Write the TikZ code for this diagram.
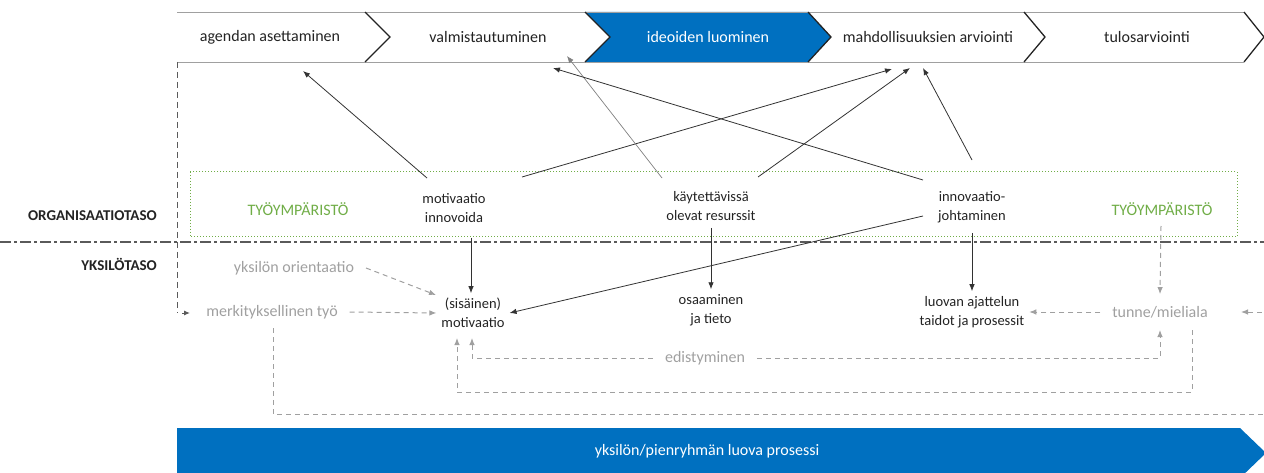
\documentclass[tikz,border=0pt]{standalone}
\usepackage{fontspec}
\setmainfont{Carlito}
\usetikzlibrary{arrows.meta,calc}
\definecolor{blueA}{RGB}{0,112,192}
\definecolor{txt}{RGB}{35,35,35}
\definecolor{lgray}{RGB}{160,160,160}
\definecolor{dgray}{RGB}{90,90,90}
\definecolor{wgreen}{RGB}{112,173,71}
\definecolor{lineC}{RGB}{50,50,50}
\tikzset{
  stage/.style={font=\fontsize{16}{19}\selectfont, text=txt, inner sep=1pt},
  lbl/.style={font=\fontsize{14.5}{19}\selectfont, text=txt, align=center, inner sep=1pt, outer sep=4pt},
  glbl/.style={font=\fontsize{16}{20}\selectfont, text=lgray, inner sep=1pt, outer sep=11pt},
  lvl/.style={font=\bfseries\fontsize{15}{18}\selectfont, text=txt, anchor=east, inner sep=0pt},
  envlbl/.style={font=\fontsize{16}{20}\selectfont, text=wgreen, inner sep=1pt},
  conn/.style={draw=lineC, line width=0.8pt, -{Latex[length=7pt,width=5.5pt]}},
  gconn/.style={draw=lgray, line width=1pt, dash pattern=on 5pt off 4pt, -{Latex[length=7pt,width=5.5pt]}},
  gline/.style={draw=lgray, line width=1pt, dash pattern=on 5pt off 4pt},
}
\begin{document}
\begin{tikzpicture}[x=1pt,y=-1pt]
\useasboundingbox (0,0) rectangle (1264,473);

% process bar with chevrons
\fill[blueA] (585,12) -- (808,12) -- (831,37) -- (808,62) -- (585,62) -- (610,37) -- cycle;
\draw[lgray, line width=0.9pt] (177,12) -- (1244,12) (177,62) -- (1244,62);
\foreach \x/\d in {365/25, 585/25, 808/23, 1024/21, 1244/20}
  \draw[txt, line width=1.3pt] (\x,12) -- (\x+\d,37) -- (\x,62);

\node[stage] (s1) at (270,37) {agendan asettaminen};
\node[stage] (s2) at (488,37) {valmistautuminen};
\node[stage, text=white] (s3) at (708,37) {ideoiden luominen};
\node[stage] (s4) at (928,37) {mahdollisuuksien arviointi};
\node[stage] (s5) at (1147,37) {tulosarviointi};

% level separator
\draw[dgray, line width=1.1pt, dash pattern=on 11pt off 3pt on 3pt off 3pt] (0,242) -- (1264,242);
\node[lvl] (org) at (157,216) {ORGANISAATIOTASO};
\node[lvl] (yks) at (157,264) {YKSILÖTASO};

% work environment
\draw[wgreen, line width=1pt, dotted] (190,172) rectangle (1237,237);
\node[envlbl] (env1) at (298,209) {TYÖYMPÄRISTÖ};
\node[envlbl] (env2) at (1162,209) {TYÖYMPÄRISTÖ};

% organisation-level factors
\node[lbl] (motiv) at (454,208) {motivaatio\\innovoida};
\node[lbl] (kayt) at (711,206) {käytettävissä\\olevat resurssit};
\node[lbl] (innov) at (972,207) {innovaatio-\\johtaminen};

% individual-level factors
\node[lbl] (sis) at (473,313) {(sisäinen)\\motivaatio};
\node[lbl] (osa) at (711,310) {osaaminen\\ja tieto};
\node[lbl] (luo) at (972,312) {luovan ajattelun\\taidot ja prosessit};
\node[glbl] (tun) at (1160,312) {tunne/mieliala};
\node[glbl] (mer) at (272,312) {merkityksellinen työ};
\node[glbl] (ori) at (294,268) {yksilön orientaatio};
\node[glbl] (edi) at (705,358) {edistyminen};

% free ends on the process bar
\coordinate (a1) at (303,71);
\coordinate (a2) at (567,56);
\coordinate (a3) at (553,68);
\coordinate (a4) at (892,69);
\coordinate (a5) at (910,68);
\coordinate (a6) at (923,68);

% organisation factors feeding the stages
\draw[conn] (427,178) -- (a1);
\draw[conn] (522,177) -- (a4);
\draw[conn, draw=gray, line width=0.7pt] (662,178) -- (a2);
\draw[conn] (758,177) -- (a5);
\draw[conn] (923,180) -- (a3);
\draw[conn] (972,160) -- (a6);

% organisation factors feeding individual factors
\draw[conn] (923,216) -- (sis.east);
\draw[conn] (471,238) -- (sis.north -| 471,0);
\draw[conn] (711,228) -- (osa.north);
\draw[conn] (972,233) -- (luo.north);

% dashed influences
\draw[gconn] (ori.east) -- (436,295);
\draw[gconn] (mer.east) -- (sis.west);
\draw[gconn] (tun.west) -- (luo.east);
\draw[gconn] (1161,226) -- (tun.north);
\draw[gline, draw=dgray, dash pattern=on 6pt off 4pt] (177,62) -- (177,313);
\draw[draw=dgray, line width=1pt, -{Latex[length=6pt,width=5pt]}] (182,313) -- (190,313);

% feedback loops
\draw[gconn] (edi.west) -- (472,358) -- (472,338);
\draw[gconn] (edi.east) -- (1160,358) -- (1160,330);
\draw[gconn] (1192,330) -- (1192,392) -- (457,392) -- (457,338);
\draw[gconn] (273,328) -- (273,414) -- (1272,414) -- (1272,312) -- (1241,312);

% bottom process arrow
\fill[blueA] (177,428) -- (1240,428) -- (1266,453) -- (1240,478) -- (177,478) -- cycle;
\node[font=\fontsize{16}{19}\selectfont, text=white] (proc) at (707,451) {yksilön/pienryhmän luova prosessi};
\end{tikzpicture}
\end{document}
